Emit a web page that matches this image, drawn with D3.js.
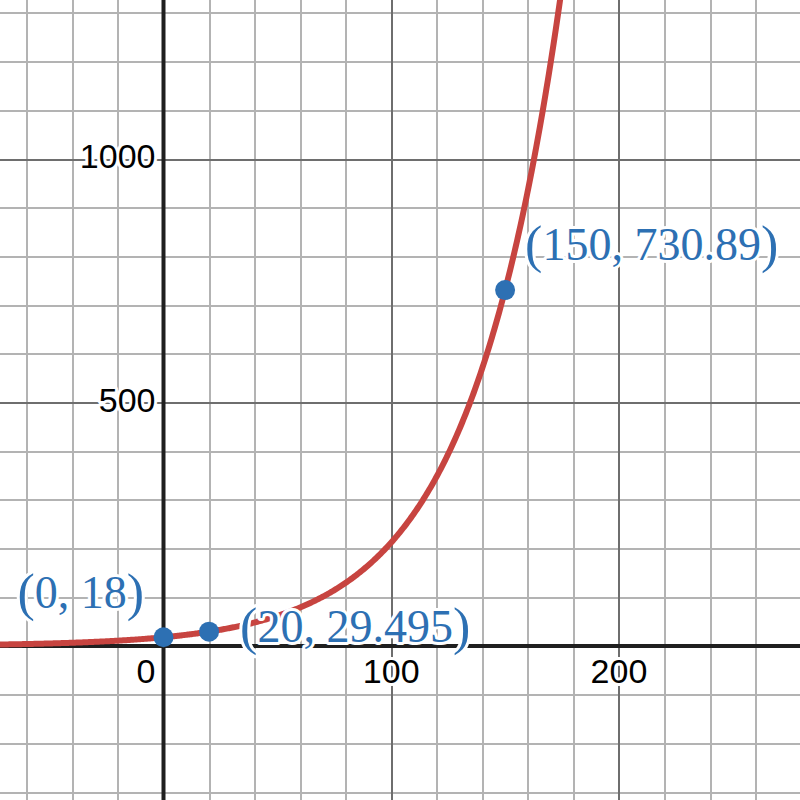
<!DOCTYPE html>
<html>
<head>
<meta charset="utf-8">
<script src="https://cdn.jsdelivr.net/npm/d3@7"></script>
<style>
  body { margin: 0; background: #fff; }
  .grid line { shape-rendering: crispEdges; }
  .grid path { display: none; }
  .tick-label { font-family: Arial, "Liberation Sans", sans-serif; font-size: 34px; fill: #000;
                stroke: #fff; stroke-width: 6px; paint-order: stroke; stroke-linejoin: round; }
  .pt-label { font-family: "Liberation Serif", "DejaVu Serif", serif; font-size: 46px; fill: #2d70b3;
              stroke: #fff; stroke-width: 6px; paint-order: stroke; stroke-linejoin: round; }
  .paren { font-size: 52px; }
</style>
</head>
<body>
<div id="chart"></div>
<script>
// visible window of the graph
const xExtent = [-71.8, 279.5];
const yExtent = [-316.2, 1326.5];

// grid + tick labels
const xMinorTicks = d3.range(-60, 281, 20);
const yMinorTicks = d3.range(-300, 1301, 100);
const xMajorTicks = [0, 100, 200];
const yMajorTicks = [-500, 0, 500, 1000];
const xTickLabels = [0, 100, 200];
const yTickLabels = [500, 1000];

// plotted function y = a * b^x
const curveA = 18;
const curveB = 1.025;

// labelled points
const pointX = [0, 20, 150];
const pointY = [18, 29.495, 730.89];
const pointLabels = ['0, 18', '20, 29.495', '150, 730.89'];

const W = 800, H = 800;
// label offsets from point (px)
const labelOffsets = [[-146, -29], [31, 10], [20, -30]];

const svg = d3.select('#chart').append('svg')
    .attr('width', W)
    .attr('height', H);

const x = d3.scaleLinear().domain(xExtent).range([0, W]);
const y = d3.scaleLinear().domain(yExtent).range([H, 0]);

// minor grid
svg.append('g').classed('grid', true)
    .attr('transform', `translate(0, ${H})`)
    .call(d3.axisBottom(x).tickValues(xMinorTicks.filter(d => d % 100 !== 0)).tickSize(-H).tickFormat(''))
    .selectAll('line').attr('stroke', '#b3b3b3').attr('stroke-width', 2);
svg.append('g').classed('grid', true)
    .call(d3.axisLeft(y).tickValues(yMinorTicks.filter(d => d % 500 !== 0)).tickSize(-W).tickFormat(''))
    .selectAll('line').attr('stroke', '#b3b3b3').attr('stroke-width', 2);

// major grid
svg.append('g').classed('grid', true)
    .attr('transform', `translate(0, ${H})`)
    .call(d3.axisBottom(x).tickValues(xMajorTicks).tickSize(-H).tickFormat(''))
    .selectAll('line').attr('stroke', '#6e6e6e').attr('stroke-width', 2);
svg.append('g').classed('grid', true)
    .call(d3.axisLeft(y).tickValues(yMajorTicks).tickSize(-W).tickFormat(''))
    .selectAll('line').attr('stroke', '#6e6e6e').attr('stroke-width', 2);

// axes
svg.append('line')
    .attr('x1', 0).attr('x2', W)
    .attr('y1', y(0)).attr('y2', y(0))
    .attr('stroke', '#1f1f1f').attr('stroke-width', 4);
svg.append('line')
    .attr('x1', x(0)).attr('x2', x(0))
    .attr('y1', 0).attr('y2', H)
    .attr('stroke', '#1f1f1f').attr('stroke-width', 4);

// tick labels
svg.selectAll('.x-label')
    .data(xTickLabels)
    .enter().append('text')
    .classed('tick-label', true)
    .attr('x', d => d === 0 ? x(0) - 8 : x(d))
    .attr('y', y(0) + 37)
    .attr('text-anchor', d => d === 0 ? 'end' : 'middle')
    .text(d => d);
svg.selectAll('.y-label')
    .data(yTickLabels)
    .enter().append('text')
    .classed('tick-label', true)
    .attr('x', x(0) - 8)
    .attr('y', d => y(d) + 9)
    .attr('text-anchor', 'end')
    .text(d => d);

// curve
const xs = d3.range(xExtent[0], xExtent[1], 0.5);
const line = d3.line()
    .x(d => x(d))
    .y(d => y(curveA * Math.pow(curveB, d)))
    .defined(d => curveA * Math.pow(curveB, d) < yExtent[1] + 200);
svg.append('path')
    .attr('d', line(xs))
    .attr('fill', 'none')
    .attr('stroke', '#c74440')
    .attr('stroke-width', 6)
    .attr('stroke-linecap', 'round');

// points
const pts = pointX.map((d, i) => ({ x: d, y: pointY[i], label: pointLabels[i], off: labelOffsets[i] }));
svg.selectAll('circle')
    .data(pts)
    .enter().append('circle')
    .attr('cx', d => x(d.x))
    .attr('cy', d => y(d.y))
    .attr('r', 10)
    .attr('fill', '#2d70b3');
let labels = svg.selectAll('.pt-label')
    .data(pts)
    .enter().append('text')
    .classed('pt-label', true)
    .attr('x', d => x(d.x) + d.off[0])
    .attr('y', d => y(d.y) + d.off[1])
    .attr('xml:space', 'preserve');
labels.append('tspan').classed('paren', true).attr('dy', 2).text('(');
labels.append('tspan').attr('dy', -2).text(d => d.label);
labels.append('tspan').classed('paren', true).attr('dy', 2).text(')');
</script>
</body>
</html>
